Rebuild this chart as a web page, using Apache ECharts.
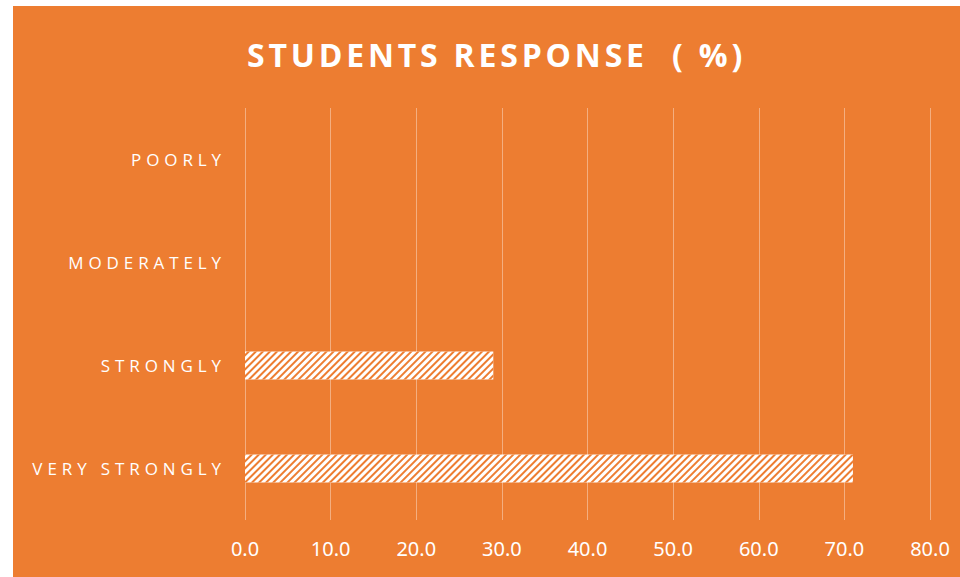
<!DOCTYPE html>
<html>
<head>
<meta charset="utf-8">
<script src="https://cdn.jsdelivr.net/npm/echarts@6/dist/echarts.min.js"></script>
<style>
  html, body { margin: 0; padding: 0; background: #ffffff; }
  #chart { position: absolute; left: 13px; top: 6px; width: 947px; height: 571px; background: #ED7D31; }
</style>
</head>
<body>
<div id="chart"></div>
<script>
// -- Data --
const categories = ['VERY STRONGLY', 'STRONGLY', 'MODERATELY', 'POORLY'];
const responsePct = [71, 29, 0, 0];
const xTicks = { min: 0, max: 80, interval: 10 };

const ORANGE = '#ED7D31';
const WHITE = '#ffffff';

const chart = echarts.init(document.getElementById('chart'), null, { renderer: 'svg' });

chart.setOption({
  animation: false,
  backgroundColor: ORANGE,
  title: {
    text: 'STUDENTS RESPONSE  ( %)',
    left: 'center',
    top: 27,
    textStyle: { color: WHITE, fontFamily: 'Open Sans', fontWeight: 'bold', fontSize: 32 }
  },
  grid: { left: 232, right: 30, top: 102, bottom: 57 },
  xAxis: {
    type: 'value',
    min: xTicks.min,
    max: xTicks.max,
    interval: xTicks.interval,
    axisLine: { show: false },
    axisTick: { show: false },
    splitLine: { lineStyle: { color: 'rgba(255,255,255,0.38)', width: 1 } },
    axisLabel: {
      color: WHITE, fontFamily: 'Noto Sans', fontSize: 20, margin: 18,
      formatter: v => v.toFixed(1)
    }
  },
  yAxis: {
    type: 'category',
    data: categories,
    axisLine: { show: false },
    axisTick: { show: false },
    axisLabel: { color: WHITE, fontFamily: 'Open Sans', fontSize: 17, margin: 19 }
  },
  series: [{
    type: 'bar',
    data: responsePct,
    barWidth: 28,
    itemStyle: {
      color: WHITE,
      decal: {
        symbol: 'rect',
        symbolSize: 1,
        color: ORANGE,
        dashArrayX: [1, 0],
        dashArrayY: [1.3, 2.2],
        rotation: -Math.PI / 4
      }
    }
  }]
});

// letter-spaced caps, like the original template
function spaceLetters() {
  chart.getDom().querySelectorAll('text').forEach(t => {
    const s = t.textContent;
    if (categories.includes(s)) t.setAttribute('letter-spacing', '4.9');
    else if (s.indexOf('STUDENTS') === 0) {
      t.setAttribute('letter-spacing', '3.8');
      t.setAttribute('dx', '10');
    }
  });
}
chart.on('finished', spaceLetters);
spaceLetters();
</script>
</body>
</html>
